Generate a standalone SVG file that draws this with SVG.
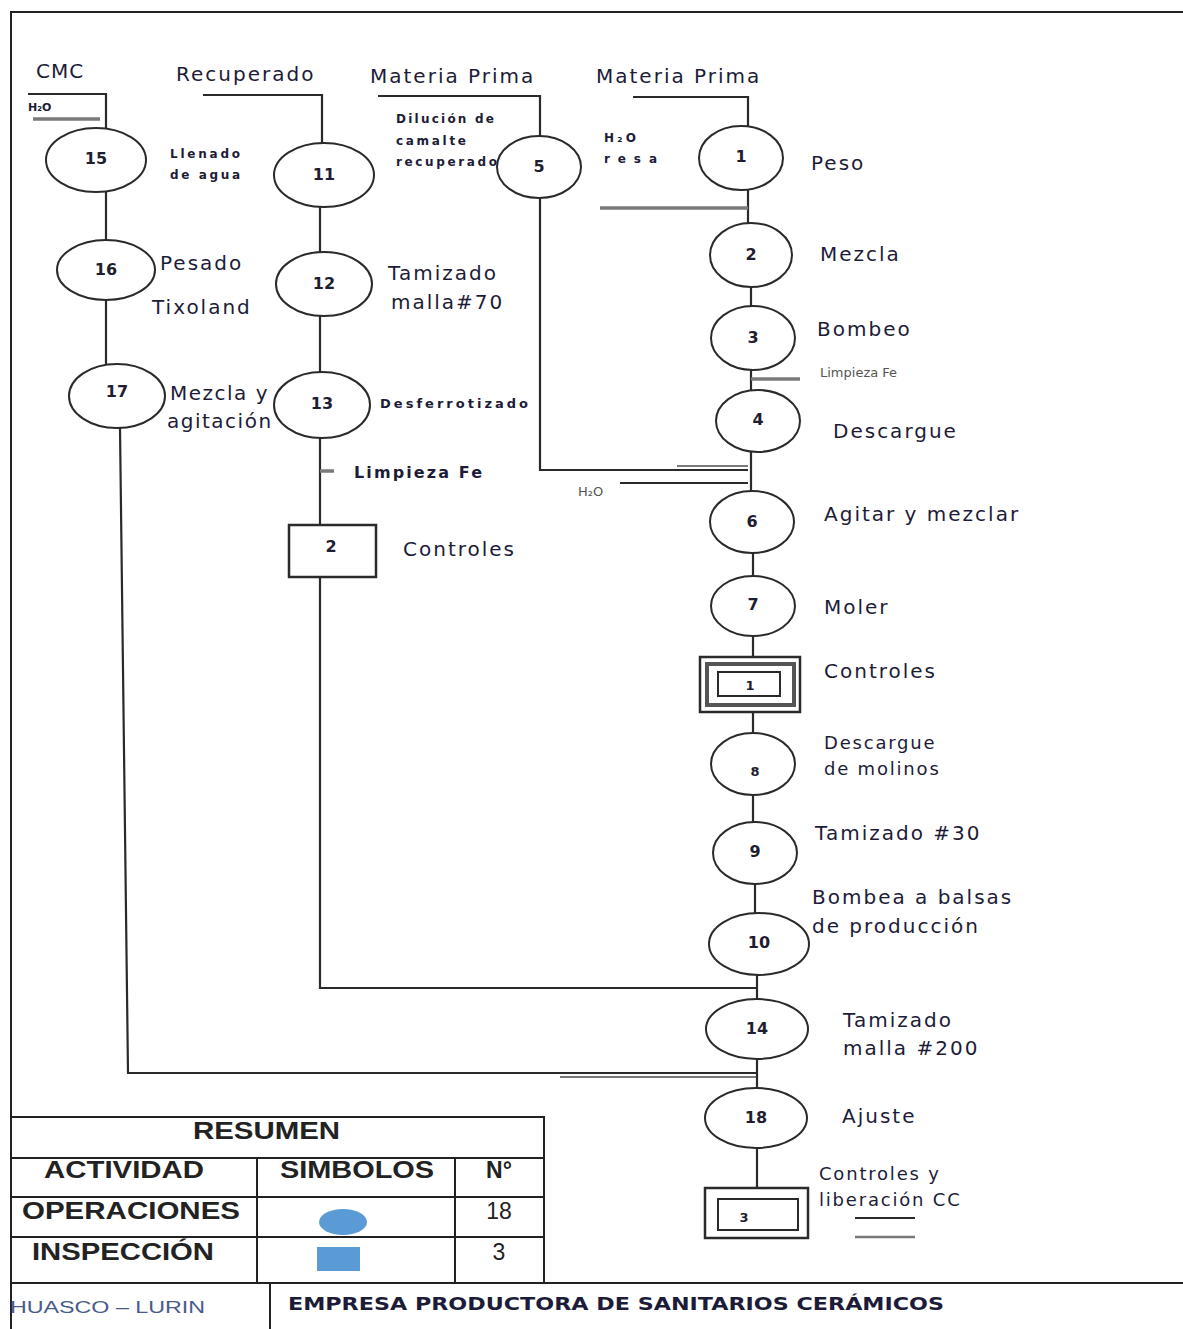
<svg xmlns="http://www.w3.org/2000/svg" width="1183" height="1329" viewBox="0 0 1183 1329">
  <style>
    .bg { fill: #ffffff; }
    .frame { fill: none; stroke: #222; stroke-width: 2; }
    .op { fill: #ffffff; stroke: #2a2a2a; stroke-width: 2; }
    .box { fill: #ffffff; stroke: #2a2a2a; stroke-width: 2.5; }
    .mid { fill: none; stroke: #555; stroke-width: 4; }
    .wire { fill: none; stroke: #2a2a2a; stroke-width: 2.2; }
    .gray { fill: none; stroke: #7a7a7a; stroke-width: 3.5; }
    .num { font-family: "DejaVu Sans", sans-serif; font-size: 16px; font-weight: bold; fill: #1e1e30; text-anchor: middle; }
    .lbl { font-family: "DejaVu Sans", sans-serif; font-size: 20px; fill: #1c1c38; letter-spacing: 2px; }
    .lbl2 { font-family: "DejaVu Sans", sans-serif; font-size: 18px; fill: #1c1c38; letter-spacing: 1.8px; }
    .sm { font-family: "DejaVu Sans", sans-serif; font-size: 12px; font-weight: bold; fill: #1c1c38; }
    .tiny { font-family: "DejaVu Sans", sans-serif; font-size: 13px; fill: #555; }
    .tb { font-family: "Liberation Sans", Arial, sans-serif; font-size: 23px; font-weight: bold; fill: #222; }
    .tbc { font-family: "Liberation Sans", Arial, sans-serif; font-size: 23px; font-weight: bold; fill: #222; text-anchor: middle; }
    .cell { fill: none; stroke: #222; stroke-width: 2; }
    .sym { fill: #5b9bd5; }
  </style>

  <rect class="bg" x="0" y="0" width="1183" height="1329"/>

  <!-- page frame -->
  <polyline class="frame" points="11,1329 11,12 1183,12"/>

  <!-- flow connectors -->
  <g id="connectors">
    <!-- CMC branch -->
    <polyline class="wire" points="28,94 106,94 106,128"/>
    <line class="gray" x1="33" y1="119" x2="100" y2="119"/>
    <line class="wire" x1="106" y1="192" x2="106" y2="240"/>
    <line class="wire" x1="106" y1="300" x2="106" y2="364"/>
    <polyline class="wire" points="120,428 128,1073 757,1073"/>
    <line class="gray" x1="560" y1="1077" x2="757" y2="1077" style="stroke-width:2"/>

    <!-- Recuperado branch -->
    <polyline class="wire" points="203,95 322,95 322,143"/>
    <line class="wire" x1="320" y1="207" x2="320" y2="252"/>
    <line class="wire" x1="320" y1="316" x2="320" y2="373"/>
    <line class="wire" x1="320" y1="438" x2="320" y2="525"/>
    <line class="gray" x1="320" y1="471" x2="334" y2="471"/>
    <polyline class="wire" points="320,577 320,988 757,988"/>

    <!-- raw material into 5 -->
    <polyline class="wire" points="378,96 540,96 540,137"/>
    <polyline class="wire" points="540,198 540,470 748,470"/>
    <line class="gray" x1="677" y1="466" x2="748" y2="466" style="stroke-width:2"/>
    <line class="wire" x1="620" y1="483" x2="748" y2="483"/>

    <!-- main line -->
    <polyline class="wire" points="633,97 748,97 748,127"/>
    <line class="wire" x1="748" y1="190" x2="748" y2="224"/>
    <line class="gray" x1="600" y1="208" x2="748" y2="208"/>
    <line class="wire" x1="751" y1="287" x2="751" y2="307"/>
    <line class="wire" x1="751" y1="370" x2="751" y2="391"/>
    <line class="gray" x1="751" y1="379" x2="800" y2="379"/>
    <line class="wire" x1="751" y1="452" x2="751" y2="491"/>
    <line class="wire" x1="753" y1="553" x2="753" y2="576"/>
    <line class="wire" x1="753" y1="636" x2="753" y2="657"/>
    <line class="wire" x1="753" y1="712" x2="753" y2="734"/>
    <line class="wire" x1="753" y1="795" x2="753" y2="822"/>
    <line class="wire" x1="755" y1="884" x2="755" y2="913"/>
    <line class="wire" x1="757" y1="975" x2="757" y2="999"/>
    <line class="wire" x1="757" y1="1059" x2="757" y2="1088"/>
    <line class="wire" x1="757" y1="1148" x2="757" y2="1188"/>
    <line class="wire" x1="855" y1="1218" x2="915" y2="1218"/>
    <line class="gray" x1="855" y1="1237" x2="915" y2="1237" style="stroke-width:2.5"/>
  </g>

  <!-- source labels -->
  <g id="sources">
    <text class="lbl" x="36" y="78" style="letter-spacing:1px">CMC</text>
    <text class="sm" x="28" y="111" style="font-size:11px">H₂O</text>
    <text class="lbl" x="176" y="81">Recuperado</text>
    <text class="lbl" x="370" y="83">Materia Prima</text>
    <text class="lbl" x="596" y="83">Materia  Prima</text>
    <text class="sm" x="604" y="142" textLength="32" lengthAdjust="spacing">H₂O</text>
    <text class="sm" x="604" y="163" textLength="53" lengthAdjust="spacing">resa</text>
    <text class="tiny" x="578" y="496">H₂O</text>
  </g>

  <!-- CMC branch nodes -->
  <g id="op15">
    <ellipse class="op" cx="96" cy="160" rx="50" ry="32"/>
    <text class="num" x="96" y="164">15</text>
    <text class="sm" x="170" y="158" textLength="70" lengthAdjust="spacing">Llenado</text>
    <text class="sm" x="170" y="179" textLength="70" lengthAdjust="spacing">de agua</text>
  </g>
  <g id="op16">
    <ellipse class="op" cx="106" cy="270" rx="49" ry="30"/>
    <text class="num" x="106" y="275">16</text>
    <text class="lbl" x="160" y="270">Pesado</text>
    <text class="lbl" x="152" y="314">Tixoland</text>
  </g>
  <g id="op17">
    <ellipse class="op" cx="117" cy="396" rx="48" ry="32"/>
    <text class="num" x="117" y="397">17</text>
    <text class="lbl" x="170" y="400" style="letter-spacing:1.5px">Mezcla y</text>
    <text class="lbl" x="167" y="428" style="letter-spacing:1.5px">agitación</text>
  </g>

  <!-- Recuperado branch nodes -->
  <g id="op11">
    <ellipse class="op" cx="324" cy="175" rx="50" ry="32"/>
    <text class="num" x="324" y="180">11</text>
  </g>
  <g id="op12">
    <ellipse class="op" cx="324" cy="284" rx="48" ry="32"/>
    <text class="num" x="324" y="289">12</text>
    <text class="lbl" x="388" y="280">Tamizado</text>
    <text class="lbl" x="391" y="309">malla#70</text>
  </g>
  <g id="op13">
    <ellipse class="op" cx="322" cy="405" rx="48" ry="33"/>
    <text class="num" x="322" y="409">13</text>
    <text class="sm" x="380" y="408" style="font-size:13px" textLength="148" lengthAdjust="spacing">Desferrotizado</text>
    <text class="sm" x="354" y="478" style="font-size:16px" textLength="128" lengthAdjust="spacing">Limpieza  Fe</text>
  </g>
  <g id="insp2">
    <rect class="box" x="289" y="525" width="87" height="52"/>
    <text class="num" x="331" y="552">2</text>
    <text class="lbl" x="403" y="556">Controles</text>
  </g>

  <!-- dilution node -->
  <g id="op5">
    <ellipse class="op" cx="539" cy="167" rx="42" ry="31"/>
    <text class="num" x="539" y="172">5</text>
    <text class="sm" x="396" y="123" textLength="98" lengthAdjust="spacing">Dilución de</text>
    <text class="sm" x="396" y="145" textLength="70" lengthAdjust="spacing">camalte</text>
    <text class="sm" x="396" y="166" textLength="101" lengthAdjust="spacing">recuperado</text>
  </g>

  <!-- main line nodes -->
  <g id="op1">
    <ellipse class="op" cx="741" cy="158" rx="42" ry="32"/>
    <text class="num" x="741" y="162">1</text>
    <text class="lbl" x="811" y="170">Peso</text>
  </g>
  <g id="op2">
    <ellipse class="op" cx="751" cy="255" rx="41" ry="32"/>
    <text class="num" x="751" y="260">2</text>
    <text class="lbl" x="820" y="261">Mezcla</text>
  </g>
  <g id="op3">
    <ellipse class="op" cx="753" cy="338" rx="42" ry="32"/>
    <text class="num" x="753" y="343">3</text>
    <text class="lbl" x="817" y="336">Bombeo</text>
    <text class="tiny" x="820" y="377">Limpieza Fe</text>
  </g>
  <g id="op4">
    <ellipse class="op" cx="758" cy="421" rx="42" ry="31"/>
    <text class="num" x="758" y="425">4</text>
    <text class="lbl" x="833" y="438">Descargue</text>
  </g>
  <g id="op6">
    <ellipse class="op" cx="752" cy="522" rx="42" ry="31"/>
    <text class="num" x="752" y="527">6</text>
    <text class="lbl" x="824" y="521">Agitar y mezclar</text>
  </g>
  <g id="op7">
    <ellipse class="op" cx="753" cy="606" rx="42" ry="30"/>
    <text class="num" x="753" y="610">7</text>
    <text class="lbl" x="824" y="614">Moler</text>
  </g>
  <g id="insp1">
    <rect class="box" x="700" y="657" width="100" height="55"/>
    <rect class="mid" x="707" y="664" width="87" height="41"/>
    <rect class="box" x="718" y="672" width="62" height="24" style="stroke-width:2"/>
    <text class="num" x="750" y="690" style="font-size:13px">1</text>
    <text class="lbl" x="824" y="678">Controles</text>
  </g>
  <g id="op8">
    <ellipse class="op" cx="753" cy="764" rx="42" ry="31"/>
    <text class="num" x="755" y="776" style="font-size:13px">8</text>
    <text class="lbl2" x="824" y="749">Descargue</text>
    <text class="lbl2" x="824" y="775">de molinos</text>
  </g>
  <g id="op9">
    <ellipse class="op" cx="755" cy="853" rx="42" ry="31"/>
    <text class="num" x="755" y="857">9</text>
    <text class="lbl" x="815" y="840">Tamizado #30</text>
  </g>
  <g id="op10">
    <ellipse class="op" cx="759" cy="944" rx="50" ry="31"/>
    <text class="num" x="759" y="948">10</text>
    <text class="lbl" x="812" y="904">Bombea a balsas</text>
    <text class="lbl" x="812" y="933">de producción</text>
  </g>
  <g id="op14">
    <ellipse class="op" cx="757" cy="1029" rx="51" ry="30"/>
    <text class="num" x="757" y="1034">14</text>
    <text class="lbl" x="843" y="1027">Tamizado</text>
    <text class="lbl" x="843" y="1055">malla #200</text>
  </g>
  <g id="op18">
    <ellipse class="op" cx="756" cy="1118" rx="51" ry="30"/>
    <text class="num" x="756" y="1123">18</text>
    <text class="lbl" x="842" y="1123">Ajuste</text>
  </g>
  <g id="insp3">
    <rect class="box" x="705" y="1188" width="103" height="50"/>
    <rect class="box" x="718" y="1199" width="80" height="31" style="stroke-width:2"/>
    <text class="num" x="744" y="1222" style="font-size:13px">3</text>
    <text class="lbl2" x="819" y="1180">Controles y</text>
    <text class="lbl2" x="819" y="1206">liberación CC</text>
  </g>

  <!-- summary table -->
  <g id="summary">
    <rect class="cell" x="11" y="1117" width="533" height="166"/>
    <line class="cell" x1="11" y1="1158" x2="544" y2="1158"/>
    <line class="cell" x1="11" y1="1197" x2="544" y2="1197"/>
    <line class="cell" x1="11" y1="1237" x2="544" y2="1237"/>
    <line class="cell" x1="257" y1="1158" x2="257" y2="1283"/>
    <line class="cell" x1="455" y1="1158" x2="455" y2="1283"/>
    <text class="tb" x="193" y="1139" textLength="147" lengthAdjust="spacingAndGlyphs">RESUMEN</text>
    <text class="tb" x="44" y="1178" textLength="160" lengthAdjust="spacingAndGlyphs">ACTIVIDAD</text>
    <text class="tb" x="280" y="1178" textLength="154" lengthAdjust="spacingAndGlyphs">SIMBOLOS</text>
    <text class="tbc" x="499" y="1178">N°</text>
    <text class="tb" x="22" y="1219" textLength="218" lengthAdjust="spacingAndGlyphs">OPERACIONES</text>
    <ellipse class="sym" cx="343" cy="1222" rx="24" ry="13"/>
    <text class="tbc" x="499" y="1219" style="font-weight:normal">18</text>
    <text class="tb" x="32" y="1260" textLength="182" lengthAdjust="spacingAndGlyphs">INSPECCIÓN</text>
    <rect class="sym" x="317" y="1247" width="43" height="24"/>
    <text class="tbc" x="499" y="1260" style="font-weight:normal">3</text>
  </g>

  <!-- title block -->
  <g id="titleblock">
    <line class="cell" x1="11" y1="1283" x2="1183" y2="1283"/>
    <line class="cell" x1="270" y1="1283" x2="270" y2="1329"/>
    <text x="10" y="1313" style="font-family:'Liberation Sans',Arial,sans-serif;font-size:16px;fill:#4a5a8a" textLength="195" lengthAdjust="spacingAndGlyphs">HUASCO  –  LURIN</text>
    <text x="288" y="1310" style="font-family:'DejaVu Sans',sans-serif;font-size:18px;font-weight:bold;fill:#1c1c38" textLength="656" lengthAdjust="spacingAndGlyphs">EMPRESA PRODUCTORA DE SANITARIOS  CERÁMICOS</text>
  </g>
</svg>
